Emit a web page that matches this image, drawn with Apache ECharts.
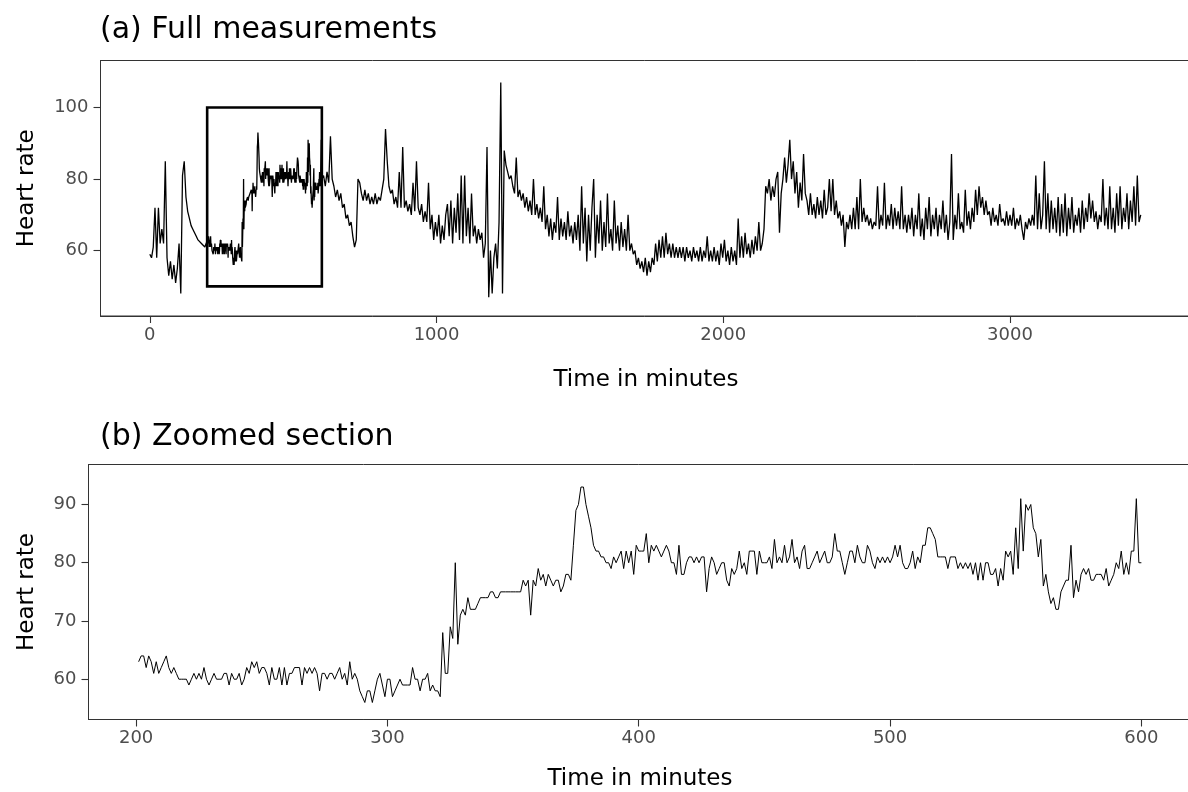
<!DOCTYPE html>
<html>
<head>
<meta charset="utf-8">
<script src="https://cdn.jsdelivr.net/npm/echarts@6/dist/echarts.min.js"></script>
<style>
  html, body { margin: 0; padding: 0; background: #fff; }
  #chart { width: 1188px; height: 792px; }
</style>
</head>
<body>
<div id="chart"></div>
<script>
// Heart rate recording, one reading per minute; the long stretches are kept every 6 minutes.
const coarseStep = 6;

// minutes 0 .. 198 (every 6 min)
const earlyStart = 0;
const earlyRate = [
  59, 58, 61, 72, 58, 72, 62, 66, 62, 85,
  58, 53, 57, 52, 56, 51, 55, 62, 48, 81,
  85, 75, 71, 69, 67, 66, 65, 64, 63, 63,
  62, 62, 61, 61
];

// minutes 201 .. 600 (every minute) - the zoomed window
const zoomStart = 201;
const zoomRate = [
  // 201
  63, 64, 64, 62, 64, 63, 61, 63, 61, 62, 63, 64, 62, 61, 62, 61, 60, 60, 60, 60,
  59, 60, 61, 60, 61, 60, 62, 60, 59, 60, 61, 60, 60, 60, 61, 61, 59, 61, 60, 60,
  61, 59, 60, 62, 61, 63, 62, 63, 61, 62, 62, 61, 59, 62, 60, 60, 62, 59, 62, 59,
  61, 61, 62, 62, 62, 59, 62, 61, 62, 61, 62, 61, 58, 61, 61, 60, 61, 61, 60, 61,
  62, 60, 61, 59, 63, 60, 61, 60, 58, 57, 56, 58, 58,
  // 294
  56, 58, 60, 61, 59, 57, 60, 60, 57, 58, 59, 60, 59, 59, 59, 59, 62, 60, 60, 58,
  60, 60, 61, 58, 59, 58, 58, 57, 68, 61, 61, 69, 67, 80, 66, 71, 72, 71, 74, 72,
  72, 72, 73, 74, 74, 74, 74, 75, 75, 74, 74, 75, 75, 75, 75, 75, 75, 75, 75, 75,
  77, 76, 77, 71, 77, 76, 79, 77, 78, 76, 78, 77, 76, 77, 77, 75, 76, 78, 78, 77,
  83, 89, 90, 93, 93, 90, 88, 86, 83, 82, 82, 81, 81, 80, 80, 79, 81, 80, 81, 82,
  79, 82, 80, 82, 78, 83, 82,
  // 401
  82, 82, 85, 80, 83, 82, 83, 82, 81, 82, 83, 82, 80, 80, 78, 83, 78, 78, 80, 81,
  81, 80, 81, 80, 81, 81, 75, 79, 81, 80, 78, 79, 80, 80, 77, 76, 79, 78, 79, 82,
  79, 80, 78, 82, 82, 82, 78, 82, 80, 80, 80, 81, 79, 84, 80, 81, 80, 83, 80, 81,
  84, 80, 81, 79, 82, 83, 79, 79, 80, 81, 82, 80, 81, 82, 80, 80, 81, 85, 82, 82,
  80, 78, 80, 82, 82, 80, 83, 81, 80, 80, 83, 82, 80, 79, 81, 80, 81, 80, 81, 80,
  81, 83, 81, 83, 80, 79, 79,
  // 508
  80, 82, 79, 81, 80, 83, 83, 86, 86, 85, 84, 81, 81, 81, 81, 79, 81, 81, 81, 79,
  80, 79, 80, 79, 80, 78, 80, 77, 80, 77, 80, 80, 78, 78, 79, 76, 79, 77, 82, 81,
  82, 78, 86, 79, 91, 82, 90, 89, 90, 86, 85, 81, 84, 76, 78, 75, 73, 74, 72, 72,
  75, 76, 77, 77, 83, 74, 77, 75, 78, 79, 78, 79, 77, 77, 78, 78, 78, 77, 79, 76,
  77, 78, 80, 79, 82, 78, 80, 78, 82, 82, 91, 80, 80
];

// minutes 606 .. 3456 (every 6 min)
const lateStart = 606;
const lateRate = [
  81, 78, 82, 79, 92, 80, 78, 75, 77, 74,   // 606
  76, 72, 73, 69, 70, 67, 68, 64, 61, 63,   // 666
  80, 79, 76, 74, 77, 74, 76, 73, 75, 73,   // 726
  76, 73, 75, 74, 77, 80, 94, 85, 78, 76,   // 786
  77, 73, 75, 72, 82, 72, 89, 72, 74, 71,   // 846
  73, 70, 79, 71, 85, 72, 70, 73, 68, 71,   // 906
  68, 79, 66, 70, 63, 68, 64, 70, 62, 67,   // 966
  63, 70, 73, 64, 74, 62, 72, 65, 76, 63,   // 1026
  81, 62, 81, 64, 72, 62, 76, 64, 67, 62,   // 1086
  66, 63, 65, 58, 62, 89, 47, 60, 48, 58,   // 1146
  62, 55, 68, 107, 48, 88, 84, 82, 80, 81,  // 1206
  78, 76, 86, 75, 77, 74, 76, 72, 75, 71,   // 1266
  74, 70, 80, 70, 73, 69, 72, 68, 78, 66,   // 1326
  70, 64, 69, 63, 68, 65, 75, 63, 69, 64,   // 1386
  68, 63, 71, 64, 67, 62, 68, 63, 70, 60,   // 1446
  78, 62, 72, 57, 70, 60, 72, 80, 58, 70,   // 1506
  62, 74, 60, 68, 61, 76, 62, 66, 60, 74,   // 1566
  62, 67, 60, 68, 61, 66, 60, 70, 60, 62,   // 1626
  59, 60, 56, 58, 55, 57, 54, 58, 53, 57,   // 1686
  54, 58, 56, 62, 57, 63, 58, 64, 58, 65,   // 1746
  59, 62, 58, 62, 58, 61, 58, 61, 58, 61,   // 1806
  57, 61, 58, 60, 57, 61, 58, 60, 57, 61,   // 1866
  57, 60, 58, 64, 57, 60, 57, 61, 57, 60,   // 1926
  56, 62, 58, 63, 57, 60, 56, 61, 57, 60,   // 1986
  56, 69, 58, 64, 58, 65, 59, 62, 58, 63,   // 2046
  59, 64, 60, 68, 60, 62, 66, 78, 76, 80,   // 2106
  74, 78, 75, 80, 82, 65, 76, 80, 86, 79,   // 2166
  84, 91, 80, 85, 76, 82, 72, 79, 74, 87,   // 2226
  76, 74, 70, 76, 70, 73, 69, 75, 70, 74,   // 2286
  69, 77, 70, 72, 80, 71, 80, 70, 74, 69,   // 2346
  71, 67, 70, 61, 68, 66, 70, 66, 72, 66,   // 2406
  75, 66, 80, 68, 72, 68, 70, 67, 69, 66,   // 2466
  68, 67, 78, 66, 70, 67, 79, 66, 70, 67,   // 2526
  73, 66, 72, 67, 71, 66, 78, 66, 70, 65,   // 2586
  70, 66, 72, 64, 70, 66, 76, 64, 69, 63,   // 2646
  72, 66, 75, 64, 70, 66, 72, 64, 70, 66,   // 2706
  74, 65, 70, 63, 68, 87, 63, 70, 66, 76,   // 2766
  66, 68, 65, 77, 67, 71, 66, 72, 68, 77,   // 2826
  70, 78, 72, 75, 70, 74, 70, 71, 67, 72,   // 2886
  68, 70, 67, 73, 68, 69, 67, 71, 67, 70,   // 2946
  67, 72, 66, 69, 67, 70, 66, 63, 68, 66,   // 3006
  69, 67, 70, 67, 81, 66, 76, 66, 70, 85,   // 3066
  66, 76, 65, 74, 66, 72, 65, 75, 64, 73,   // 3126
  65, 76, 64, 72, 66, 75, 65, 70, 67, 72,   // 3186
  65, 74, 66, 72, 68, 76, 69, 74, 68, 71,   // 3246
  66, 70, 68, 80, 67, 72, 66, 78, 66, 72,   // 3306
  65, 76, 67, 78, 66, 72, 68, 76, 66, 74,   // 3366
  68, 78, 67, 81, 68, 70                    // 3426
];

// window outlined in the full view and shown in panel (b)
const windowMinutes = [200, 600];
const windowRate = [50, 100];

// tick labels
const fullTicksX = [0, 1000, 2000, 3000];
const fullTicksY = [60, 80, 100];
const zoomTicksX = [200, 300, 400, 500, 600];
const zoomTicksY = [60, 70, 80, 90];

function toPairs(start, step, values) {
  return values.map((v, i) => [start + i * step, v]);
}

const zoomSeries = toPairs(zoomStart, 1, zoomRate);
const fullSeries = [].concat(
  toPairs(earlyStart, coarseStep, earlyRate),
  zoomSeries,
  toPairs(lateStart, coarseStep, lateRate)
);

const FONT = 'DejaVu Sans';
const tickLabel = { color: '#4D4D4D', fontSize: 18, fontFamily: FONT, formatter: v => String(v) };
const nameStyle = { color: '#000', fontSize: 23, fontFamily: FONT };
const frameLine = { show: true, onZero: false, lineStyle: { color: '#333', width: 1 } };
const tickStyle = { lineStyle: { color: '#333', width: 1.1 } };

function xAxisFor(gridIndex, min, max, ticks, gap) {
  return {
    type: 'value', gridIndex, min, max,
    name: 'Time in minutes', nameLocation: 'middle', nameGap: gap, nameTextStyle: nameStyle,
    axisLine: frameLine,
    axisTick: { show: true, inside: false, length: 7, customValues: ticks, ...tickStyle },
    axisLabel: { ...tickLabel, margin: 10, customValues: ticks },
    splitLine: { show: false }
  };
}
function yAxisFor(gridIndex, min, max, ticks, gap) {
  return {
    type: 'value', gridIndex, min, max,
    name: 'Heart rate', nameLocation: 'middle', nameGap: gap, nameRotate: 90, nameTextStyle: nameStyle,
    axisLine: frameLine,
    axisTick: { show: true, inside: false, length: 7, customValues: ticks, ...tickStyle },
    axisLabel: { ...tickLabel, margin: 12, customValues: ticks },
    splitLine: { show: false }
  };
}

const chart = echarts.init(document.getElementById('chart'), null, { renderer: 'canvas' });
chart.setOption({
  animation: false,
  backgroundColor: '#fff',
  graphic: [
    { type: 'text', left: 100, top: 15, style: { text: '(a) Full measurements', font: '30px "DejaVu Sans"', fill: '#000' } },
    { type: 'text', left: 100, top: 422, style: { text: '(b) Zoomed section', font: '30px "DejaVu Sans"', fill: '#000' } }
  ],
  grid: [
    { left: 100.5, top: 60.5, width: 1091, height: 255.5, show: true, borderColor: '#333', borderWidth: 1,
      backgroundColor: 'transparent', outerBoundsMode: 'none', containLabel: false },
    { left: 88.5, top: 464.5, width: 1103, height: 255, show: true, borderColor: '#333', borderWidth: 1,
      backgroundColor: 'transparent', outerBoundsMode: 'none', containLabel: false }
  ],
  xAxis: [
    xAxisFor(0, -172, 3633, fullTicksX, 53),
    xAxisFor(1, 181.05, 619.95, zoomTicksX, 48)
  ],
  yAxis: [
    yAxisFor(0, 41.73, 113.15, fullTicksY, 62),
    yAxisFor(1, 53.08, 96.87, zoomTicksY, 50)
  ],
  series: [
    {
      type: 'line', xAxisIndex: 0, yAxisIndex: 0, data: fullSeries,
      showSymbol: false, symbol: 'none',
      lineStyle: { color: '#000', width: 1.3 },
      markArea: {
        silent: true,
        itemStyle: { color: 'rgba(0,0,0,0)', borderColor: '#000', borderWidth: 2.6 },
        data: [[
          { xAxis: windowMinutes[0], yAxis: windowRate[0] },
          { xAxis: windowMinutes[1], yAxis: windowRate[1] }
        ]]
      }
    },
    {
      type: 'line', xAxisIndex: 1, yAxisIndex: 1, data: zoomSeries,
      showSymbol: false, symbol: 'none',
      lineStyle: { color: '#000', width: 1 }
    }
  ]
});
</script>
</body>
</html>
